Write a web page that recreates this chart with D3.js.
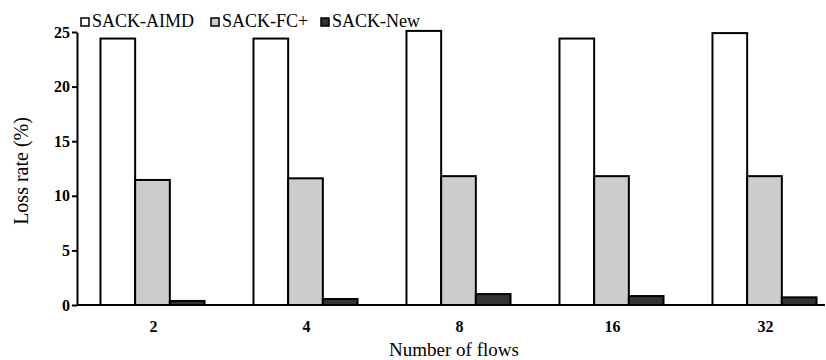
<!DOCTYPE html>
<html>
<head>
<meta charset="utf-8">
<script src="https://cdn.jsdelivr.net/npm/d3@7/dist/d3.min.js"></script>
<style>
  html, body { margin: 0; padding: 0; background: #fff; }
</style>
</head>
<body>
<svg id="chart" width="826" height="360"></svg>
<script>
// Loss rate (%) per number of flows for three SACK variants
const flows = ["2", "4", "8", "16", "32"];
const seriesNames = ["SACK-AIMD", "SACK-FC+", "SACK-New"];
const aimd = [24.4, 24.4, 25.1, 24.4, 24.9];
const fcPlus = [11.45, 11.6, 11.8, 11.8, 11.8];
const sackNew = [0.37, 0.55, 1.0, 0.82, 0.7];
const yTicks = [0, 5, 10, 15, 20, 25];

const seriesValues = [aimd, fcPlus, sackNew];
const fills = ["#ffffff", "#cccccc", "#333333"];
const FONT = "'Liberation Serif', 'Times New Roman', Tinos, 'Noto Serif', 'DejaVu Serif', FreeSerif, serif";

const svg = d3.select("#chart");
const plotLeft = 77, plotRight = 825, plotTop = 32, plotBottom = 305;

const x0 = d3.scaleBand()
  .domain(flows)
  .range([76, 841])
  .paddingInner(0.32)
  .paddingOuter(0.16);

const x1 = d3.scaleBand()
  .domain(seriesNames)
  .range([0, x0.bandwidth()]);

const y = d3.scaleLinear()
  .domain([0, 25])
  .range([plotBottom, plotTop]);

// bars
const rows = flows.map((f, i) => ({
  flow: f,
  vals: seriesNames.map((s, j) => ({ series: s, value: seriesValues[j][i], fill: fills[j] }))
}));

const groups = svg.append("g")
  .selectAll("g")
  .data(rows)
  .join("g")
  .attr("transform", d => `translate(${x0(d.flow)},0)`);

groups.selectAll("rect")
  .data(d => d.vals)
  .join("rect")
  .attr("x", d => x1(d.series))
  .attr("y", d => y(d.value))
  .attr("width", x1.bandwidth())
  .attr("height", d => y(0) - y(d.value))
  .attr("fill", d => d.fill)
  .attr("stroke", "#000")
  .attr("stroke-width", 2);

// y axis
const yAxis = svg.append("g")
  .attr("transform", `translate(${plotLeft},0)`)
  .call(d3.axisLeft(y).tickValues(yTicks).tickSize(5).tickSizeOuter(0));
yAxis.attr("font-family", FONT);
yAxis.select(".domain").attr("stroke-width", 2);
yAxis.selectAll(".tick line").attr("stroke-width", 2);
yAxis.selectAll(".tick text")
  .attr("font-size", 16)
  .attr("font-weight", "bold")
  .attr("fill", "#000")
  .attr("x", -7);

// x axis
const xAxis = svg.append("g")
  .attr("transform", `translate(0,${plotBottom})`)
  .call(d3.axisBottom(x0).tickSize(0).tickSizeOuter(0).tickPadding(16));
xAxis.attr("font-family", FONT);
xAxis.select(".domain")
  .attr("d", `M${plotLeft},0H${plotRight}`)
  .attr("stroke-width", 2);
xAxis.selectAll(".tick text")
  .attr("font-size", 16)
  .attr("font-weight", "bold")
  .attr("fill", "#000")
  .attr("dx", 1);

// axis titles
svg.append("text")
  .attr("x", 454)
  .attr("y", 356)
  .attr("text-anchor", "middle")
  .attr("font-family", FONT)
  .attr("font-size", 19)
  .text("Number of flows");

svg.append("text")
  .attr("transform", "translate(28,171) rotate(-90)")
  .attr("text-anchor", "middle")
  .attr("font-family", FONT)
  .attr("font-size", 20)
  .text("Loss rate (%)");

// legend
const legendX = [81, 211, 321];
const legend = svg.append("g")
  .selectAll("g")
  .data(seriesNames)
  .join("g")
  .attr("transform", (d, i) => `translate(${legendX[i]},22)`);
legend.append("rect")
  .attr("x", 0).attr("y", -4)
  .attr("width", 8).attr("height", 8)
  .attr("fill", (d, i) => fills[i])
  .attr("stroke", "#000")
  .attr("stroke-width", 1.5);
legend.append("text")
  .attr("x", 11)
  .attr("y", 5)
  .attr("font-family", FONT)
  .attr("font-size", 18)
  .text(d => d);
</script>
</body>
</html>
